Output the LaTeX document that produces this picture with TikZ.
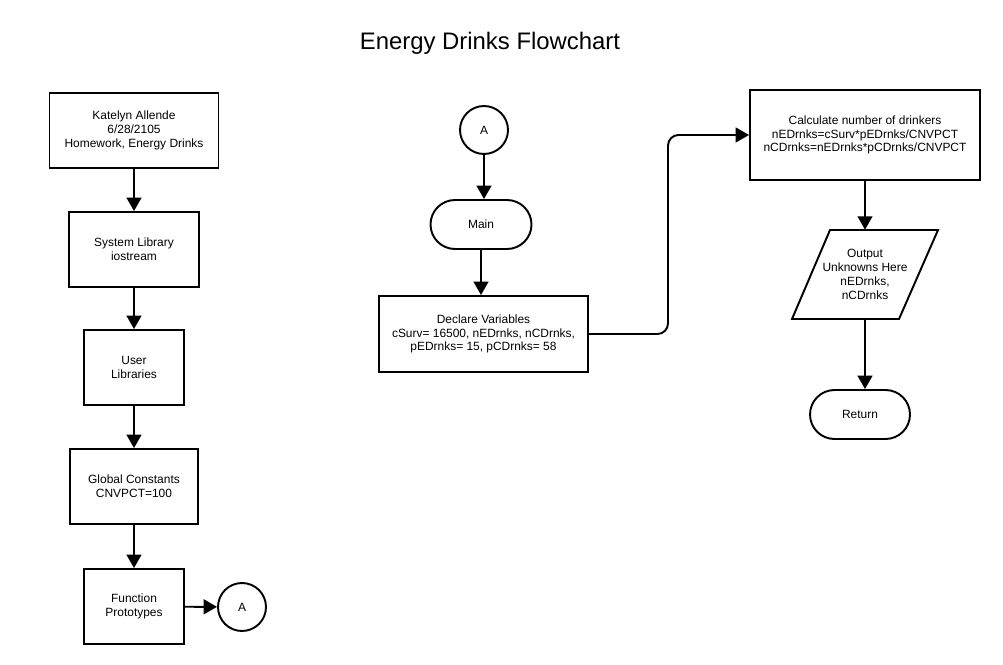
\documentclass[tikz,border=0pt]{standalone}
\usepackage{fontspec}
\setmainfont{Liberation Sans}
\usetikzlibrary{positioning,arrows.meta,shapes.misc}

\tikzset{
  box/.style={draw, line width=1.1pt, align=center, inner sep=0pt,
    font=\fontsize{6.8}{7.9}\selectfont},
  term/.style={box, rounded rectangle, minimum width=2.02cm, minimum height=0.98cm},
  conn/.style={box, circle, minimum size=0.96cm},
  flow/.style={line width=1.1pt, -{Triangle[length=7.6pt,width=8.4pt]}}
}

\begin{document}
\begin{tikzpicture}[x=0.02cm, y=-0.02cm]
    \useasboundingbox[fill=white] (0,0) rectangle (1003,665);
    \node (title) at (490,43) {\fontsize{13.6}{16}\selectfont Energy Drinks Flowchart};
    % left column
    \node[box, minimum width=3.38cm, minimum height=1.5cm] (head) at (134,130.5) {Katelyn Allende\\6/28/2105\\Homework, Energy Drinks};
    \node[box, minimum width=2.6cm, minimum height=1.5cm] (syslib) at (134,249.5) {System Library\\iostream};
    \node[box, minimum width=2cm, minimum height=1.5cm] (usrlib) at (134,367.5) {User\\Libraries};
    \node[box, minimum width=2.56cm, minimum height=1.5cm] (const) at (134,486.5) {Global Constants\\CNVPCT=100};
    \node[box, minimum width=2cm, minimum height=1.5cm] (proto) at (134,606.5) {Function\\Prototypes};
    \node[conn] (offA) at (242,607) {A};
    % middle column
    \node[conn] (onA) at (484,130) {A};
    \node[term] (main) at (481,224.5) {Main};
    \node[box, minimum width=4.18cm, minimum height=1.52cm] (decl) at (483.5,334) {Declare Variables\\cSurv= 16500, nEDrnks, nCDrnks,\\pEDrnks= 15, pCDrnks= 58};
    \coordinate (turn) at (668,0);
    % right column
    \node[box, minimum width=4.6cm, minimum height=1.8cm] (calc) at (865,135) {Calculate number of drinkers\\nEDrnks=cSurv*pEDrnks/CNVPCT\\nCDrnks=nEDrnks*pCDrnks/CNVPCT};
    \node[align=center, inner sep=0pt, minimum height=1.78cm, font=\fontsize{6.8}{7.9}\selectfont] (out) at (865,274.5) {Output\\Unknowns Here\\nEDrnks,\\nCDrnks};
    \draw[line width=1.1pt, line join=miter] (830,230) -- (938,230) -- (899,319) -- (792,319) -- cycle;
    \node[term, minimum width=2cm] (ret) at (860,414.5) {Return};
    % connectors
    \draw[flow] (head) -- (syslib);
    \draw[flow] (syslib) -- (usrlib);
    \draw[flow] (usrlib) -- (const);
    \draw[flow] (const) -- (proto);
    \draw[flow] (proto) -- (offA);
    \draw[flow] (onA) -- (onA |- main.north);
    \draw[flow] (main) -- (main |- decl.north);
    \draw[flow, rounded corners=6pt] (decl.east) -- (decl.east -| turn) -- (turn |- calc.west) -- (calc.west);
    \draw[flow] (calc) -- (out);
    \draw[flow] (out) -- (out |- ret.north);
\end{tikzpicture}
\end{document}
